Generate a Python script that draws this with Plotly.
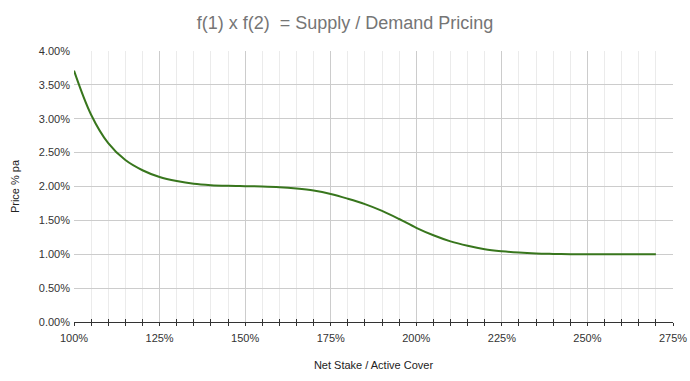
import plotly.graph_objects as go

ratio = [100, 105, 110, 115, 120, 125, 130, 135, 140, 145, 150, 155, 160, 165, 170,
         175, 180, 185, 190, 195, 200, 205, 210, 215, 220, 225, 230, 235, 240, 245,
         250, 255, 260, 265, 270]
price = [3.71, 3.06, 2.64, 2.39, 2.24, 2.14, 2.08, 2.04, 2.02, 2.01, 2.005, 2.00, 1.99,
         1.97, 1.94, 1.89, 1.82, 1.74, 1.64, 1.52, 1.39, 1.28, 1.19, 1.125, 1.075, 1.045,
         1.025, 1.012, 1.005, 1.00, 1.00, 1.00, 1.00, 1.00, 1.00]

x_ticks = [100, 125, 150, 175, 200, 225, 250, 275]
y_ticks = [0, 0.5, 1.0, 1.5, 2.0, 2.5, 3.0, 3.5, 4.0]

font = "Liberation Sans, Arial, sans-serif"

fig = go.Figure()
fig.add_trace(go.Scatter(
    x=ratio, y=price, mode="lines",
    line=dict(color="#38761d", width=2, shape="spline", smoothing=1.0),
    showlegend=False, hoverinfo="x+y",
))

fig.update_layout(
    width=690, height=381,
    margin=dict(l=74, r=17, t=51, b=59),
    paper_bgcolor="white", plot_bgcolor="white",
    title=dict(text="f(1) x f(2)  = Supply / Demand Pricing", x=0.5, xanchor="center",
               y=0.94, yanchor="middle",
               font=dict(family=font, size=18, color="#757575")),
    font=dict(family=font, size=11, color="#333333"),
    xaxis=dict(
        range=[100, 275], tickvals=x_ticks, ticktext=[f"{v}%" for v in x_ticks],
        showgrid=True, gridcolor="#cccccc", gridwidth=1,
        ticks="", showline=True, linecolor="#333333", linewidth=1,
        zeroline=False, automargin=False, ticklabelstandoff=6,
        minor=dict(dtick=5, tick0=100, showgrid=True, gridcolor="#ebebeb",
                   ticks="outside", ticklen=3, tickcolor="#333333", tickwidth=1),
        title=dict(text="Net Stake / Active Cover", standoff=18,
                   font=dict(family=font, size=11, color="#222222")),
        tickfont=dict(family=font, size=11, color="#333333"),
    ),
    xaxis2=dict(
        range=[100, 275], overlaying="x", anchor="y", side="bottom",
        tickvals=[v for v in range(105, 275, 5) if v % 25 != 0],
        ticks="inside", ticklen=3, tickcolor="#333333", tickwidth=1,
        showticklabels=False, showgrid=False, zeroline=False, showline=False,
    ),
    yaxis=dict(
        range=[0, 4], tickvals=y_ticks, ticktext=[f"{v:.2f}%" for v in y_ticks],
        showgrid=True, gridcolor="#cccccc", gridwidth=1, zeroline=False,
        ticks="", showline=False, automargin=False, ticklabelstandoff=3,
        title=dict(text="Price % pa", standoff=16,
                   font=dict(family=font, size=11, color="#222222")),
        tickfont=dict(family=font, size=11, color="#333333"),
    ),
)
fig.add_trace(go.Scatter(x=[100], y=[0], xaxis="x2", yaxis="y", mode="markers",
                         marker=dict(opacity=0), showlegend=False, hoverinfo="skip"))

fig.write_html("out.html", config={"displayModeBar": False},
               post_script="document.body.style.margin='0';")
